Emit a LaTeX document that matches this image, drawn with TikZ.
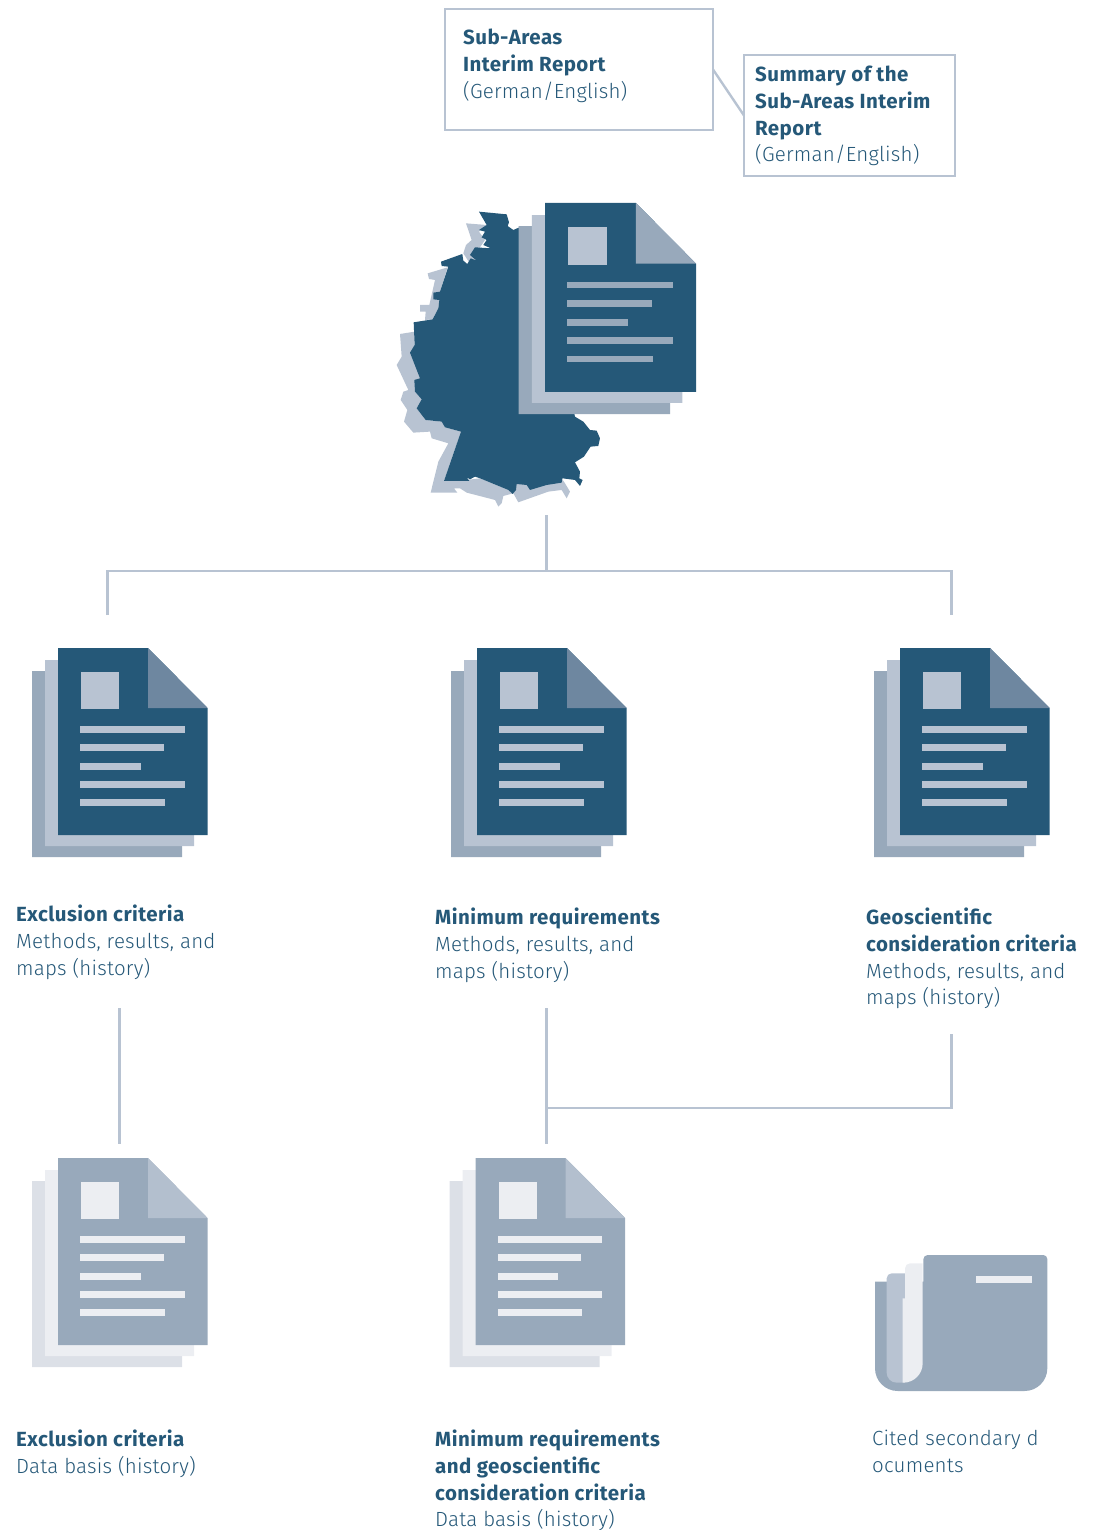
\documentclass[tikz,border=0pt]{standalone}
\usepackage{fontspec}
\setmainfont{Fira Sans}[UprightFont=*-Light,BoldFont=*-Bold,UprightFeatures={LetterSpace=1},BoldFeatures={LetterSpace=2.2}]
\definecolor{dk}{HTML}{255878}
\definecolor{md}{HTML}{98A9BB}
\definecolor{lt}{HTML}{B8C3D2}
\definecolor{fd}{HTML}{6E87A0}
\definecolor{pf}{HTML}{B3BFCE}
\definecolor{pa}{HTML}{DCE0E7}
\definecolor{pb}{HTML}{ECEEF2}
\tikzset{
  conn/.style={draw=lt,line width=2.4pt},
  boxnode/.style={draw=lt,line width=2.4pt,minimum width=#1,inner sep=0pt,outer sep=0pt,anchor=north west},
  lbl/.style={anchor=north west,align=left,inner sep=0pt,text=dk,font=\fontsize{20.5}{26.7}\selectfont},
  pics/doc/.style n args={6}{code={
    \fill[#1] (-26,23) -- (64,23) -- (124,83) -- (124,209) -- (-26,209) -- cycle;
    \fill[#2] (-13,12) -- (77,12) -- (136,72) -- (136,198) -- (-13,198) -- cycle;
    \fill[#3] (0,0) -- (90,0) -- (149.5,60) -- (149.5,187) -- (0,187) -- cycle;
    \fill[#4] (90,0) -- (149.5,60) -- (90,60) -- cycle;
    \fill[#5] (23,24) rectangle (61,61);
    \fill[#6] (22,78) rectangle (126.5,84.5);
    \fill[#6] (22,96) rectangle (105.5,102.5);
    \fill[#6] (22,115) rectangle (82.5,121.5);
    \fill[#6] (22,133) rectangle (126.5,139.5);
    \fill[#6] (22,151) rectangle (106.5,157.5);
  }}
}
\begin{document}
\begin{tikzpicture}[x=1pt,y=-1pt]
\useasboundingbox (0,0) rectangle (1109,1530);
% map
\begin{scope}[shift={(380,190)},x=0.3333pt,y=-0.3333pt]
\fill[lt] (258,100)--(320,105)--(297,125)--(315,150)--(300,172)--(280,195)--(295,212)--(268,218)--(250,190)--(258,165)--(275,150)--cycle;
\fill[lt] (143,250)--(203,232)--(180,305)--(160,310)--(178,330)--(175,355)--(158,388)--(135,390)--(137,365)--(120,365)--(120,345)--(148,345)--(165,270)--(147,267)--cycle;
\fill[lt] (60,432)--(104,425)--(104,465)--(120,565)--(105,605)--(125,628)--(110,655)--(137,690)--(185,695)--(195,712)--(243,725)--(192,873)--(260,870)--(300,865)--(385,900)--(398,912)--(410,882)--(545,865)--(555,880)--(570,905)--(560,925)--(545,900)--(505,905)--(415,937)--(400,910)--(370,918)--(365,940)--(355,950)--(345,930)--(260,908)--(240,895)--(222,895)--(232,908)--(152,908)--(175,815)--(205,760)--(155,745)--(150,725)--(100,728)--(72,695)--(82,660)--(62,630)--(70,605)--(85,600)--(50,525)--(65,500)--cycle;
\fill[dk] (297,65)--(380,73)--(387,97)--(383,108)--(400,120)--(416,113)--(500,300)--(585,680)--(610,695)--(630,720)--(650,722)--(660,745)--(655,768)--(632,770)--(612,800)--(585,817)--(600,845)--(598,865)--(608,870)--(600,888)--(585,870)--(547,865)--(545,878)--(500,885)--(450,900)--(440,885)--(410,882)--(408,900)--(398,912)--(385,900)--(300,865)--(285,860)--(270,868)--(260,862)--(268,873)--(192,873)--(243,725)--(195,712)--(185,695)--(137,690)--(110,655)--(125,628)--(105,605)--(103,570)--(120,565)--(90,488)--(104,465)--(101,397)--(158,388)--(175,355)--(178,330)--(160,328)--(160,308)--(180,305)--(205,230)--(185,228)--(183,215)--(247,192)--(250,212)--(262,222)--(272,205)--(290,212)--(270,195)--(285,172)--(333,175)--(310,165)--(320,150)--(305,142)--(315,125)--(297,120)--(320,105)--cycle;
\end{scope}
% documents
\pic[scale=1.01] at (545,203) {doc={md}{lt}{dk}{md}{lt}{md}};
\pic at (58,648) {doc={md}{lt}{dk}{fd}{lt}{lt}};
\pic at (477,648) {doc={md}{lt}{dk}{fd}{lt}{lt}};
\pic at (900,648) {doc={md}{lt}{dk}{fd}{lt}{lt}};
\pic at (58,1158) {doc={pa}{pb}{md}{pf}{pb}{pb}};
\pic at (475.5,1158) {doc={pa}{pb}{md}{pf}{pb}{pb}};
% folder
\begin{scope}[shift={(860,1240)},x=0.3333pt,y=-0.3333pt]
\fill[md] (45,125)--(190,125)--(190,58) arc[start angle=180,end angle=270,radius=13]--(550,45) arc[start angle=270,end angle=360,radius=12]--(562,385) arc[start angle=0,end angle=90,radius=68]--(113,453) arc[start angle=90,end angle=180,radius=68]--cycle;
\fill[lt] (80,115) arc[start angle=180,end angle=270,radius=15]--(135,100)--(135,428)--(110,428) arc[start angle=90,end angle=180,radius=30]--cycle;
\fill[pb] (135,85) arc[start angle=180,end angle=270,radius=15]--(188,70)--(188,370) arc[start angle=0,end angle=90,radius=58]--(128,428)--(128,175)--(135,175)--cycle;
\fill[pb] (347,109) rectangle (515,129);
\end{scope}
% boxes
\node[boxnode=268pt,minimum height=121pt] (boxa) at (445,9) {};
\node[boxnode=211pt,minimum height=121pt] (boxb) at (744,55) {};
\node[lbl] (ta) at (463,29) {\textbf{Sub-Areas}\\\textbf{Interim Report}\\(German/English)};
\node[lbl] (tb) at (755,66) {\textbf{Summary of the}\\\textbf{Sub-Areas Interim}\\\textbf{Report}\\(German/English)};
\draw[conn] (boxa.east) -- (boxb.west);
% tree
\coordinate (hub) at (546.5,571);
\coordinate (mapbot) at (546.5,515);
\coordinate (l1) at (107.5,615);
\coordinate (r1) at (951.5,615);
\draw[conn] (mapbot) -- (hub);
\draw[conn] (l1) |- (hub) -| (r1);
\coordinate (e1) at (119.5,1008);
\coordinate (e2) at (119.5,1144);
\draw[conn] (e1) -- (e2);
\coordinate (m1) at (546.5,1008);
\coordinate (m2) at (546.5,1144);
\coordinate (g1) at (951.5,1034);
\coordinate (mj) at (546.5,1108);
\draw[conn] (m1) -- (m2);
\draw[conn] (g1) |- (mj);
% labels
\node[lbl] (t1) at (16,905) {\textbf{Exclusion criteria}\\Methods, results, and\\maps (history)};
\node[lbl] (t2) at (435,908) {\textbf{Minimum requirements}\\Methods, results, and\\maps (history)};
\node[lbl] (t3) at (866,908) {\textbf{Geoscientific}\\\textbf{consideration criteria}\\Methods, results, and\\maps (history)};
\node[lbl] (t4) at (16,1430) {\textbf{Exclusion criteria}\\Data basis (history)};
\node[lbl] (t5) at (435,1430) {\textbf{Minimum requirements}\\\textbf{and geoscientific}\\\textbf{consideration criteria}\\Data basis (history)};
\node[lbl] (t6) at (872,1430) {Cited secondary d\\ocuments};
\end{tikzpicture}
\end{document}
